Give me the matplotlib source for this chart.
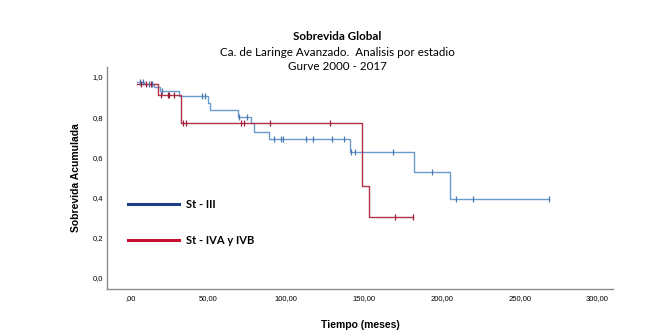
import matplotlib
matplotlib.use("Agg")
import matplotlib.pyplot as plt
from matplotlib.lines import Line2D

# ---- data ----
st3_time = [4, 9, 15, 19, 31, 49.7, 51, 69, 77.6, 79.7, 89, 140.8, 182.5, 205.5, 269]
st3_surv = [0.975, 0.963, 0.951, 0.932, 0.905, 0.87, 0.836, 0.80, 0.77, 0.728, 0.69, 0.628, 0.526, 0.393, 0.393]
st3_cens = [6, 8, 12, 14, 20.5, 46, 48, 70, 75, 92.5, 96.8, 98.3, 113, 117, 129.6, 137, 142, 144.5, 169, 194, 209, 220, 269]

st4_time = [4, 17.5, 32.6, 148.7, 153, 181.5]
st4_surv = [0.965, 0.912, 0.773, 0.46, 0.305, 0.305]
st4_cens = [7, 10, 13, 20, 24, 25, 28, 33.5, 35.5, 71, 73, 90, 128.5, 170, 181.5]

labels = ["St - III", "St - IVA y IVB"]
xticks = [0, 50, 100, 150, 200, 250, 300]
xticklabels = [",00", "50,00", "100,00", "150,00", "200,00", "250,00", "300,00"]
yticks = [0.0, 0.2, 0.4, 0.6, 0.8, 1.0]
yticklabels = ["0,0", "0,2", "0,4", "0,6", "0,8", "1,0"]

c3 = "#6b9bcf"
c4 = "#b23048"
leg3 = "#1c3f86"
leg4 = "#c8102e"


def surv_at(times, surv, t):
    val = surv[0]
    for ti, si in zip(times, surv):
        if ti <= t:
            val = si
    return val


fig = plt.figure(figsize=(6.69, 3.34), dpi=100)
ax = fig.add_axes([107 / 669, 45 / 334, 506 / 669, 222 / 334])

ax.step(st3_time, st3_surv, where="post", color=c3, lw=1.0)
ax.step(st4_time, st4_surv, where="post", color=c4, lw=1.0)
ax.plot(st3_cens, [surv_at(st3_time, st3_surv, t) for t in st3_cens],
        ls="none", marker="|", ms=4, mew=0.9, color="#4a78ad")
ax.plot(st4_cens, [surv_at(st4_time, st4_surv, t) for t in st4_cens],
        ls="none", marker="|", ms=4, mew=0.9, color="#9c1f38")

ax.set_xlim(-15, 310)
ax.set_ylim(-0.055, 1.05)
ax.set_xticks(xticks)
ax.set_xticklabels(xticklabels, fontsize=5.5, family="Liberation Sans")
ax.set_yticks(yticks)
ax.set_yticklabels(yticklabels, fontsize=5.5, family="Liberation Sans")
ax.tick_params(axis="x", length=0, pad=4)
ax.tick_params(axis="y", length=0, pad=3)
for s in ["top", "right"]:
    ax.spines[s].set_visible(False)
for s in ["left", "bottom"]:
    ax.spines[s].set_color("#8c8c8c")
    ax.spines[s].set_linewidth(1.0)

ax.set_xlabel("Tiempo (meses)", fontsize=7.5, fontweight="bold", family="Liberation Sans", labelpad=13)
ax.set_ylabel("Sobrevida Acumulada", fontsize=7.5, fontweight="bold", family="Liberation Sans", labelpad=8)

handles = [Line2D([], [], color=leg3, lw=2.2), Line2D([], [], color=leg4, lw=2.2)]
leg = ax.legend(handles, labels, loc="upper left", bbox_to_anchor=(0.022, 0.45),
                frameon=False, handlelength=4.6, labelspacing=2.2, handletextpad=0.6,
                prop={"family": "Lato", "size": 8, "weight": "bold"})

fig.text(0.504, 1 - 37 / 334, "Sobrevida Global", ha="center", va="center",
         fontsize=8.4, fontweight="bold", family="Lato")
fig.text(0.504, 1 - 52 / 334, "Ca. de Laringe Avanzado.  Analisis por estadio", ha="center", va="center",
         fontsize=8.4, family="Lato")
fig.text(0.504, 1 - 67 / 334, "Gurve 2000 - 2017", ha="center", va="center",
         fontsize=8.4, family="Lato")

fig.savefig("out.png", dpi=100)
